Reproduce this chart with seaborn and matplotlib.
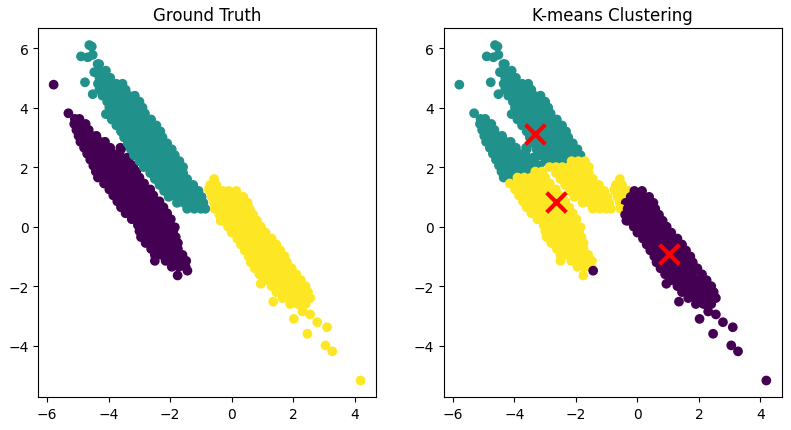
import numpy as np
import pandas as pd
import matplotlib
matplotlib.use("Agg")
import matplotlib.pyplot as plt
import seaborn as sns

# ---- data (rows of the elongated blobs: y, [x values]) ----
purple_rows = [
    (3.62, [-5.10, -4.95]),
    (3.45, [-5.12, -4.92, -4.75]),
    (3.25, [-5.05, -4.85, -4.65]),
    (3.05, [-4.98, -4.78, -4.55, -4.40]),
    (2.85, [-4.92, -4.70, -4.48, -4.28, -4.12]),
    (2.65, [-4.80, -4.60, -4.38, -4.15, -3.95, -3.62]),
    (2.45, [-4.70, -4.50, -4.28, -4.05, -3.85, -3.65]),
    (2.25, [-4.60, -4.40, -4.18, -3.95, -3.72, -3.50, -3.35]),
    (2.05, [-4.50, -4.30, -4.08, -3.85, -3.62, -3.40, -3.20]),
    (1.85, [-4.42, -4.22, -4.00, -3.78, -3.55, -3.32, -3.10]),
    (1.65, [-4.35, -4.12, -3.90, -3.68, -3.45, -3.22, -3.00]),
    (1.45, [-4.15, -3.95, -3.75, -3.52, -3.30, -3.08, -2.85]),
    (1.25, [-3.98, -3.80, -3.58, -3.35, -3.12, -2.90, -2.65]),
    (1.05, [-3.85, -3.65, -3.42, -3.20, -2.98, -2.75, -2.55]),
    (0.85, [-3.72, -3.50, -3.28, -3.05, -2.82, -2.60, -2.35]),
    (0.65, [-3.60, -3.40, -3.18, -2.95, -2.72, -2.50, -2.22]),
    (0.45, [-3.45, -3.25, -3.02, -2.80, -2.58, -2.35, -2.10]),
    (0.25, [-3.25, -3.05, -2.85, -2.62, -2.40, -2.18, -1.98]),
    (0.05, [-3.05, -2.85, -2.62, -2.40, -2.18, -2.00]),
    (-0.15, [-3.00, -2.78, -2.55, -2.32, -2.10, -1.90]),
    (-0.35, [-2.95, -2.70, -2.48, -2.25, -2.02, -1.82]),
    (-0.55, [-2.80, -2.58, -2.35, -2.12, -1.90, -1.75]),
    (-0.75, [-2.62, -2.42, -2.20, -1.98, -1.75]),
    (-0.95, [-2.50, -2.28, -2.05, -1.82, -1.60]),
    (-1.15, [-2.50, -2.15, -1.92, -1.70, -1.48]),
    (-1.35, [-1.95, -1.72, -1.50]),
]
purple_extra = [(-5.79, 4.77), (-5.31, 3.81), (-1.76, -1.64), (-1.44, -1.48),
                (-1.85, -0.02), (-3.60, 2.60), (-3.39, 2.32)]

teal_rows = [
    (5.00, [-4.30, -4.10, -3.95]),
    (4.80, [-4.35, -4.15, -3.95, -3.75, -3.55]),
    (4.60, [-4.30, -4.08, -3.88, -3.66, -3.45]),
    (4.40, [-4.20, -4.00, -3.78, -3.56, -3.35, -3.15]),
    (4.20, [-4.05, -3.85, -3.63, -3.42, -3.20, -3.00]),
    (4.00, [-3.98, -3.78, -3.56, -3.35, -3.12, -2.90]),
    (3.80, [-3.95, -3.72, -3.50, -3.28, -3.05, -2.82]),
    (3.60, [-3.90, -3.66, -3.44, -3.22, -3.00, -2.78, -2.62]),
    (3.40, [-3.75, -3.55, -3.33, -3.12, -2.90, -2.68, -2.45]),
    (3.20, [-3.60, -3.40, -3.18, -2.96, -2.75, -2.52, -2.32]),
    (3.00, [-3.50, -3.30, -3.08, -2.86, -2.65, -2.45, -2.25]),
    (2.80, [-3.38, -3.18, -2.96, -2.75, -2.52, -2.30, -2.10]),
    (2.60, [-3.28, -3.05, -2.85, -2.62, -2.40, -2.18, -1.95]),
    (2.40, [-3.18, -2.96, -2.74, -2.52, -2.30, -2.08, -1.85]),
    (2.20, [-3.00, -2.78, -2.56, -2.35, -2.14, -1.92, -1.70]),
    (2.00, [-2.86, -2.65, -2.44, -2.22, -2.00, -1.78, -1.58]),
    (1.80, [-2.65, -2.45, -2.24, -2.02, -1.80, -1.58]),
    (1.60, [-2.50, -2.30, -2.08, -1.86, -1.65, -1.45]),
    (1.40, [-2.35, -2.14, -1.92, -1.70, -1.48, -1.25]),
    (1.20, [-2.20, -1.98, -1.76, -1.55, -1.32, -1.08]),
    (1.00, [-2.05, -1.82, -1.60, -1.38, -1.15, -0.98]),
    (0.80, [-1.78, -1.55, -1.32, -1.10, -0.92]),
    (0.60, [-1.45, -1.22, -1.00, -0.86]),
]
teal_extra = [(-4.63, 6.10), (-4.55, 6.05), (-4.90, 5.72), (-4.68, 5.69), (-4.52, 5.77),
              (-4.31, 5.46), (-4.36, 5.46), (-4.31, 5.19), (-4.47, 5.19), (-4.09, 5.24),
              (-4.04, 4.96), (-4.77, 4.85), (-4.52, 4.45), (-4.09, 3.78)]

yellow_rows = [
    (1.40, [-0.70, -0.50]),
    (1.20, [-0.72, -0.52, -0.30, -0.10, 0.15]),
    (1.00, [-0.65, -0.45, -0.22, 0.00, 0.22, 0.38]),
    (0.80, [-0.58, -0.38, -0.15, 0.08, 0.30, 0.52]),
    (0.60, [-0.55, -0.32, -0.10, 0.12, 0.35, 0.58]),
    (0.40, [-0.40, -0.20, 0.02, 0.25, 0.48, 0.70]),
    (0.20, [-0.30, -0.10, 0.12, 0.35, 0.58, 0.82]),
    (0.00, [-0.12, 0.10, 0.32, 0.55, 0.78, 0.95]),
    (-0.20, [0.00, 0.22, 0.45, 0.68, 0.90, 1.10]),
    (-0.40, [0.18, 0.40, 0.62, 0.85, 1.08, 1.30]),
    (-0.60, [0.30, 0.52, 0.75, 0.98, 1.20, 1.45]),
    (-0.80, [0.42, 0.65, 0.88, 1.10, 1.32, 1.58]),
    (-1.00, [0.55, 0.78, 1.00, 1.22, 1.45, 1.72]),
    (-1.20, [0.62, 0.85, 1.08, 1.30, 1.52, 1.80]),
    (-1.40, [0.75, 0.98, 1.20, 1.42, 1.65, 1.95]),
    (-1.60, [0.90, 1.12, 1.35, 1.58, 1.80, 2.10]),
    (-1.80, [1.10, 1.32, 1.55, 1.78, 2.00, 2.25]),
    (-2.00, [1.30, 1.52, 1.75, 1.98, 2.20, 2.40]),
    (-2.20, [1.45, 1.68, 1.90, 2.12, 2.35, 2.48]),
    (-2.40, [1.65, 1.88, 2.10, 2.32, 2.55]),
    (-2.60, [1.90, 2.15, 2.40]),
]
yellow_extra = [(-0.57, 1.60), (-0.74, 1.27), (-0.36, 0.20), (0.94, -1.92), (1.35, -2.52),
                (2.30, -2.85), (2.55, -2.95), (2.02, -3.10), (2.46, -3.60), (2.78, -3.21),
                (3.10, -3.38), (3.05, -3.99), (3.27, -4.19), (4.19, -5.17)]

centers_x = [-3.32, -2.64, 1.02]
centers_y = [3.11, 0.82, -0.92]
center_labels = [1, 2, 0]


def expand(rows, extra, label):
    pts = [(x, y) for y, xs in rows for x in xs] + list(extra)
    d = pd.DataFrame(pts, columns=['x', 'y'])
    d['truth'] = label
    return d


df = pd.concat([expand(purple_rows, purple_extra, 0),
                expand(teal_rows, teal_extra, 1),
                expand(yellow_rows, yellow_extra, 2)], ignore_index=True)

# assign each point to the nearest centre (the k-means result)
cx = np.array(centers_x)
cy = np.array(centers_y)
dist = (df['x'].values[:, None] - cx) ** 2 + (df['y'].values[:, None] - cy) ** 2
df['kmeans'] = np.array(center_labels)[dist.argmin(axis=1)]

# ---- plot ----
fig = plt.figure(figsize=(7.91, 4.31), dpi=100)
ax1 = fig.add_axes([0.0484, 0.0759, 0.4269, 0.8561])
ax2 = fig.add_axes([0.5613, 0.0759, 0.4269, 0.8561])

sns.scatterplot(data=df, x='x', y='y', hue='truth', palette='viridis', hue_norm=(0, 2),
                s=36, linewidth=1, edgecolor='face', legend=False, ax=ax1)
ax1.set_title('Ground Truth')

sns.scatterplot(data=df, x='x', y='y', hue='kmeans', palette='viridis', hue_norm=(0, 2),
                s=36, linewidth=1, edgecolor='face', legend=False, ax=ax2)
sns.scatterplot(x=centers_x, y=centers_y, marker='x', color='red', s=200, linewidth=3,
                legend=False, ax=ax2)
ax2.set_title('K-means Clustering')

for ax in (ax1, ax2):
    ax.set_xlabel('')
    ax.set_ylabel('')
    ax.set_xticks([-6, -4, -2, 0, 2, 4])
    ax.set_yticks([-4, -2, 0, 2, 4, 6])

fig.savefig('out.png', dpi=100)
